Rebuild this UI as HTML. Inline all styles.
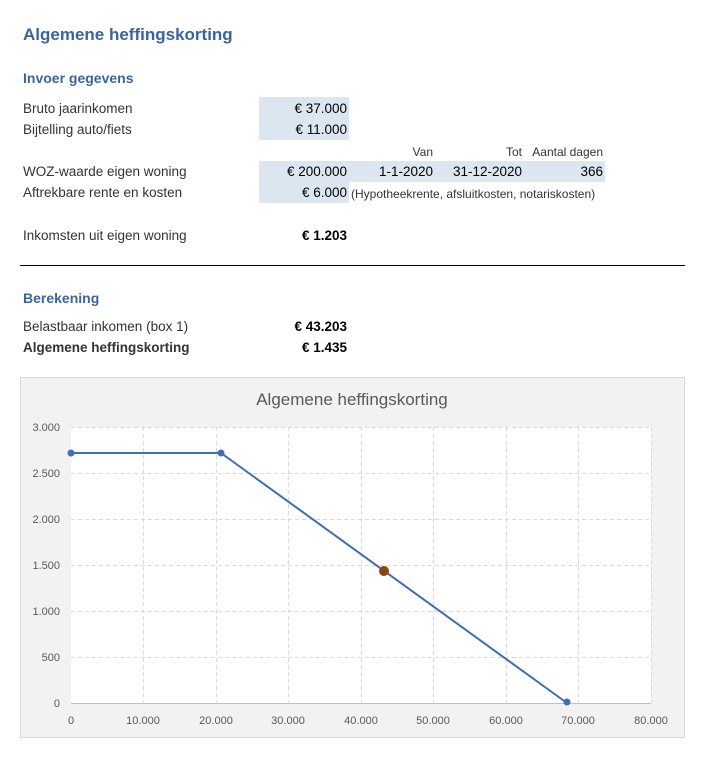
<!DOCTYPE html>
<html><head><meta charset="utf-8"><style>
body{margin:0;width:705px;height:758px;background:#fff;font-family:"Liberation Sans",sans-serif;position:relative;overflow:hidden;color:#333}
.t{position:absolute;font-size:13.5px;white-space:nowrap;line-height:16px}
.r{text-align:right}
.b{background:#dce6f1;position:absolute}
.h{color:#3a64a0;font-weight:bold}
</style></head><body>
<div class="t h" style="left:23px;top:25px;font-size:17px;line-height:20px">Algemene heffingskorting</div>
<div class="t h" style="left:23px;top:70px;font-size:14px">Invoer gegevens</div>
<div class="b" style="left:259px;top:97px;width:90px;height:43px"></div>
<div class="b" style="left:259px;top:161px;width:346px;height:21px"></div>
<div class="b" style="left:259px;top:182px;width:90px;height:21px"></div>
<div class="t" style="left:23px;top:101px">Bruto jaarinkomen</div>
<div class="t r" style="left:249px;width:98px;top:101px;color:#000">€ 37.000</div>
<div class="t" style="left:23px;top:122px">Bijtelling auto/fiets</div>
<div class="t r" style="left:249px;width:98px;top:122px;color:#000">€ 11.000</div>
<div class="t r" style="left:380px;width:53px;top:144px;font-size:12px">Van</div>
<div class="t r" style="left:460px;width:62px;top:144px;font-size:12px">Tot</div>
<div class="t r" style="left:515px;width:88px;top:144px;font-size:12px">Aantal dagen</div>
<div class="t" style="left:23px;top:164px">WOZ-waarde eigen woning</div>
<div class="t r" style="left:249px;width:98px;top:164px;color:#000">€ 200.000</div>
<div class="t r" style="left:350px;width:83px;top:164px;color:#000">1-1-2020</div>
<div class="t r" style="left:430px;width:92px;top:164px;color:#000">31-12-2020</div>
<div class="t r" style="left:540px;width:63px;top:164px;color:#000">366</div>
<div class="t" style="left:23px;top:185px">Aftrekbare rente en kosten</div>
<div class="t r" style="left:249px;width:98px;top:185px;color:#000">€ 6.000</div>
<div class="t" style="left:351px;top:186px;font-size:12px">(Hypotheekrente, afsluitkosten, notariskosten)</div>
<div class="t" style="left:23px;top:228px">Inkomsten uit eigen woning</div>
<div class="t r" style="left:249px;width:98px;top:228px;color:#000;font-weight:bold">€ 1.203</div>
<div style="position:absolute;left:20px;top:265px;width:665px;height:1px;background:#000"></div>
<div class="t h" style="left:23px;top:290px;font-size:14px">Berekening</div>
<div class="t" style="left:23px;top:319px">Belastbaar inkomen (box 1)</div>
<div class="t r" style="left:249px;width:98px;top:319px;color:#000;font-weight:bold">€ 43.203</div>
<div class="t" style="left:23px;top:340px;font-weight:bold">Algemene heffingskorting</div>
<div class="t r" style="left:249px;width:98px;top:340px;color:#000;font-weight:bold">€ 1.435</div>
<svg style="position:absolute;left:0;top:0" width="705" height="758">
<rect x="20.5" y="377.5" width="664" height="360" fill="#f2f2f2" stroke="#d9d9d9"/>
<rect x="71" y="427" width="580" height="276" fill="#fff"/>
<text x="352" y="405" text-anchor="middle" font-family="Liberation Sans" font-size="17" fill="#595959">Algemene heffingskorting</text>
<g stroke="#d9d9d9" stroke-dasharray="4,3" stroke-width="1">
<line x1="71" y1="427.5" x2="651" y2="427.5"/><line x1="71" y1="473.5" x2="651" y2="473.5"/><line x1="71" y1="519.5" x2="651" y2="519.5"/><line x1="71" y1="565.5" x2="651" y2="565.5"/><line x1="71" y1="611.5" x2="651" y2="611.5"/><line x1="71" y1="657.5" x2="651" y2="657.5"/>
<line x1="143.5" y1="427" x2="143.5" y2="703"/><line x1="216.5" y1="427" x2="216.5" y2="703"/><line x1="288.5" y1="427" x2="288.5" y2="703"/><line x1="361.5" y1="427" x2="361.5" y2="703"/><line x1="433.5" y1="427" x2="433.5" y2="703"/><line x1="506.5" y1="427" x2="506.5" y2="703"/><line x1="578.5" y1="427" x2="578.5" y2="703"/><line x1="651.5" y1="427" x2="651.5" y2="703"/>
</g>
<line x1="71" y1="703.5" x2="651" y2="703.5" stroke="#bfbfbf"/>
<g font-family="Liberation Sans" font-size="11" fill="#595959" text-anchor="end">
<text x="60" y="431">3.000</text><text x="60" y="477">2.500</text><text x="60" y="523">2.000</text><text x="60" y="569">1.500</text><text x="60" y="615">1.000</text><text x="60" y="661">500</text><text x="60" y="707">0</text>
</g>
<g font-family="Liberation Sans" font-size="11" fill="#595959" text-anchor="middle">
<text x="71" y="724">0</text><text x="143" y="724">10.000</text><text x="216" y="724">20.000</text><text x="288" y="724">30.000</text><text x="361" y="724">40.000</text><text x="433" y="724">50.000</text><text x="506" y="724">60.000</text><text x="578" y="724">70.000</text><text x="651" y="724">80.000</text>
</g>
<polyline points="71,453 221,453 567,703" fill="none" stroke="#3f6fb0" stroke-width="2"/>
<circle cx="71" cy="453" r="3.5" fill="#3f6fb0"/><circle cx="221" cy="453" r="3.5" fill="#3f6fb0"/><circle cx="567" cy="702" r="3.5" fill="#3f6fb0"/>
<circle cx="384" cy="571" r="5" fill="#8b4513"/>
</svg>
</body></html>
